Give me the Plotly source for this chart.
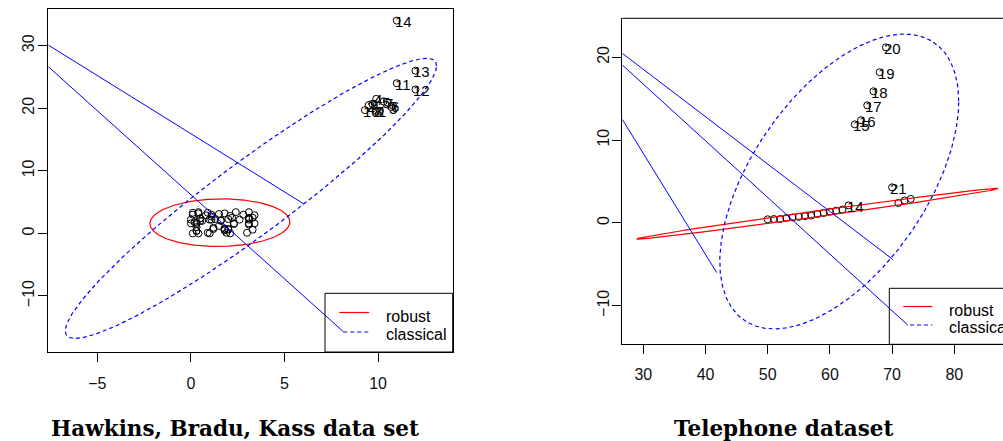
import numpy as np
import plotly.graph_objects as go

W, H = 1003, 441

# ---------------- data: Hawkins, Bradu, Kass (X1, X2) ----------------
hbk_x1 = [10.1, 9.5, 10.7, 9.9, 10.3, 10.8, 10.5, 9.9, 9.7, 9.3, 11.0, 12.0, 12.0, 11.0,
          3.4, 3.1, 0.0, 2.3, 0.8, 3.1, 2.6, 0.4, 2.0, 1.3, 1.0, 0.9, 3.3, 1.8, 1.2, 1.2,
          3.1, 0.5, 1.5, 0.4, 3.1, 1.1, 0.1, 1.5, 2.1, 0.5, 3.4, 0.3, 0.1, 1.8, 1.9, 1.8,
          3.0, 3.1, 3.1, 2.1, 2.3, 3.3, 0.3, 1.1, 0.5, 1.8, 1.8, 2.4, 1.6, 0.3, 0.4, 0.9,
          1.1, 2.8, 2.0, 0.2, 1.6, 0.1, 2.0, 1.0, 2.2, 0.6, 0.3, 0.0, 0.3]
hbk_x2 = [19.6, 20.5, 20.2, 21.5, 21.1, 20.4, 20.9, 19.6, 20.7, 19.7, 24.0, 23.0, 26.0, 34.0,
          2.9, 2.2, 1.6, 1.6, 2.9, 3.4, 2.2, 3.2, 2.3, 2.3, 0.0, 3.3, 2.5, 0.8, 0.9, 0.7,
          1.4, 2.4, 3.1, 0.0, 2.4, 2.2, 3.0, 1.2, 0.0, 2.0, 1.6, 1.0, 3.3, 0.5, 0.1, 0.5,
          0.1, 1.6, 2.5, 2.8, 1.5, 0.6, 0.4, 3.0, 2.4, 3.2, 0.7, 3.4, 2.1, 1.5, 3.4, 0.1,
          2.7, 3.0, 0.7, 1.8, 2.0, 0.0, 0.6, 2.2, 2.5, 2.0, 1.7, 2.2, 0.4]
hbk_labels = ["1", "2", "3", "4", "5", "6", "7", "8", "9", "10", "11", "12", "13", "14"]

hbk_robust_center = [1.55, 1.71]
hbk_robust_cov = [[1.896, 0.068], [0.068, 1.96]]

hbk_seg_x = [[-7.62, 6.04], [-7.62, 8.15]]
hbk_seg_y = [[30.1, 4.70], [26.64, -15.71]]

# ---------------- data: Telephone ----------------
tel_year = [50, 51, 52, 53, 54, 55, 56, 57, 58, 59, 60, 61, 62, 63, 64, 65, 66, 67, 68, 69,
            70, 71, 72, 73]
tel_calls = [0.44, 0.47, 0.47, 0.59, 0.66, 0.73, 0.81, 0.88, 1.06, 1.20, 1.35, 1.49, 1.61,
             2.12, 11.9, 12.4, 14.2, 15.9, 18.2, 21.2, 4.30, 2.40, 2.70, 2.90]
tel_label_idx = [13, 14, 15, 16, 17, 18, 19, 20]
tel_labels = ["14", "15", "16", "17", "18", "19", "20", "21"]

tel_robust_center = [58.0, 1.11]
tel_robust_cov = [[114.55, 11.98], [11.98, 1.270]]

tel_seg_x = [[26.62, 70.1], [26.62, 72.51], [26.62, 41.8]]
tel_seg_y = [[20.48, -4.40], [19.07, -12.33], [12.51, -6.01]]

hbk_xticks = [-5, 0, 5, 10]
hbk_yticks = [-10, 0, 10, 20, 30]
tel_xticks = [30, 40, 50, 60, 70, 80]
tel_yticks = [-10, 0, 10, 20]

CHI2_975 = 7.3778  # qchisq(0.975, 2)


def ellipse(center, cov, n=400):
    t = np.linspace(0, 2 * np.pi, n)
    L = np.linalg.cholesky(np.array(cov, dtype=float))
    pts = np.sqrt(CHI2_975) * (L @ np.vstack([np.cos(t), np.sin(t)]))
    return pts[0] + center[0], pts[1] + center[1]


def classical(x, y):
    x = np.asarray(x, float)
    y = np.asarray(y, float)
    return [x.mean(), y.mean()], np.cov(np.vstack([x, y]))


px = lambda v: v / W
py = lambda v: 1 - v / H

RED = "#ff0000"
BLUE = "#0000ff"
TICKFONT = dict(family="Liberation Sans, Arial", size=16, color="#111111")

fig = go.Figure()

# ---- left panel ----
fig.add_trace(go.Scatter(x=hbk_x1, y=hbk_x2, mode="markers", xaxis="x", yaxis="y",
                         marker=dict(symbol="circle-open", size=7, color="black",
                                     line=dict(width=1, color="black")), showlegend=False))
rx, ry = ellipse(hbk_robust_center, hbk_robust_cov)
fig.add_trace(go.Scatter(x=rx, y=ry, mode="lines", line=dict(color=RED, width=1.2),
                         xaxis="x", yaxis="y", showlegend=False))
c, cv = classical(hbk_x1, hbk_x2)
cx, cy = ellipse(c, cv)
fig.add_trace(go.Scatter(x=cx, y=cy, mode="lines",
                         line=dict(color=BLUE, width=1.2, dash="4px,3px"),
                         xaxis="x", yaxis="y", showlegend=False))
for sx, sy in zip(hbk_seg_x, hbk_seg_y):
    fig.add_trace(go.Scatter(x=sx, y=sy, mode="lines", line=dict(color=BLUE, width=1),
                             xaxis="x", yaxis="y", showlegend=False))

# ---- right panel ----
fig.add_trace(go.Scatter(x=tel_year, y=tel_calls, mode="markers", xaxis="x2", yaxis="y2",
                         marker=dict(symbol="circle-open", size=7, color="black",
                                     line=dict(width=1, color="black")), showlegend=False))
rx, ry = ellipse(tel_robust_center, tel_robust_cov)
fig.add_trace(go.Scatter(x=rx, y=ry, mode="lines", line=dict(color=RED, width=1.2),
                         xaxis="x2", yaxis="y2", showlegend=False))
c, cv = classical(tel_year, tel_calls)
cx, cy = ellipse(c, cv)
fig.add_trace(go.Scatter(x=cx, y=cy, mode="lines",
                         line=dict(color=BLUE, width=1.2, dash="4px,3px"),
                         xaxis="x2", yaxis="y2", showlegend=False))
for sx, sy in zip(tel_seg_x, tel_seg_y):
    fig.add_trace(go.Scatter(x=sx, y=sy, mode="lines", line=dict(color=BLUE, width=1),
                             xaxis="x2", yaxis="y2", showlegend=False))

annotations = []
LABFONT = dict(family="Liberation Sans, Arial", size=15, color="black")
for i, lab in enumerate(hbk_labels):
    annotations.append(dict(x=hbk_x1[i], y=hbk_x2[i], xref="x", yref="y", text=lab,
                            showarrow=False, xanchor="left", yanchor="middle",
                            xshift=-4, yshift=-1, font=LABFONT))
for i, lab in zip(tel_label_idx, tel_labels):
    annotations.append(dict(x=tel_year[i], y=tel_calls[i], xref="x2", yref="y2", text=lab,
                            showarrow=False, xanchor="left", yanchor="middle",
                            xshift=-4, yshift=-1, font=LABFONT))

LEGFONT = dict(family="Liberation Sans, Arial", size=16, color="black")
for (tx, ty, t) in [(383.5, 316, "robust"), (383.5, 334.5, "classical"),
                    (946.5, 310, "robust"), (946.5, 327.5, "classical")]:
    annotations.append(dict(x=px(tx), y=py(ty), xref="paper", yref="paper", text=t,
                            showarrow=False, xanchor="left", yanchor="middle", font=LEGFONT))

TITLEFONT = dict(family="DejaVu Serif", size=21.5, color="black")
annotations.append(dict(x=px(234.5), y=py(428), xref="paper", yref="paper",
                        text="<b>Hawkins, Bradu, Kass data set</b>", showarrow=False,
                        xanchor="center", yanchor="middle", font=TITLEFONT))
annotations.append(dict(x=px(783), y=py(428), xref="paper", yref="paper",
                        text="<b>Telephone dataset</b>", showarrow=False,
                        xanchor="center", yanchor="middle", font=TITLEFONT))

shapes = [
    dict(type="rect", xref="paper", yref="paper", x0=px(325), x1=px(452.7), y0=py(352),
         y1=py(293.3), line=dict(color="black", width=1)),
    dict(type="line", xref="paper", yref="paper", x0=px(339.3), x1=px(369.3),
         y0=py(312.5), y1=py(312.5), line=dict(color=RED, width=1.2)),
    dict(type="line", xref="paper", yref="paper", x0=px(343.3), x1=px(369.3),
         y0=py(332), y1=py(332), line=dict(color=BLUE, width=1.2, dash="4px,3px")),
    dict(type="rect", xref="paper", yref="paper", x0=px(889.3), x1=px(1012), y0=py(344.3),
         y1=py(288.3), line=dict(color="black", width=1)),
    dict(type="line", xref="paper", yref="paper", x0=px(903.3), x1=px(932.3),
         y0=py(306.5), y1=py(306.5), line=dict(color=RED, width=1.2)),
    dict(type="line", xref="paper", yref="paper", x0=px(910), x1=px(932.3),
         y0=py(325), y1=py(325), line=dict(color=BLUE, width=1.2, dash="4px,3px")),
    dict(type="line", xref="paper", yref="paper", x0=px(622.3), x1=px(1012),
         y0=py(18.3), y1=py(18.3), line=dict(color="black", width=1)),
]

axis_common = dict(showgrid=False, zeroline=False, showline=True, linecolor="black",
                   linewidth=1, ticks="outside", ticklen=9, tickwidth=1, tickcolor="black",
                   tickfont=TICKFONT)

fig.update_layout(
    width=W, height=H, margin=dict(l=0, r=0, t=0, b=0),
    paper_bgcolor="white", plot_bgcolor="white", showlegend=False,
    xaxis=dict(domain=[px(48.3), px(452.7)], range=[-7.62, 13.99], tickvals=hbk_xticks,
               anchor="y", mirror=True, ticklabelstandoff=8, **axis_common),
    yaxis=dict(domain=[py(352), py(9)], range=[-18.95, 35.86], tickvals=hbk_yticks,
               anchor="x", mirror=True, tickangle=-90, ticklabelstandoff=-2, **axis_common),
    xaxis2=dict(domain=[px(622.3), 1.0], range=[26.62, 87.83], tickvals=tel_xticks,
                anchor="y2", ticklabelstandoff=6, **axis_common),
    yaxis2=dict(domain=[py(344.3), py(18.3)], range=[-14.66, 24.71], tickvals=tel_yticks,
                anchor="x2", tickangle=-90, ticklabelstandoff=-3, **axis_common),
    annotations=annotations, shapes=shapes,
)

fig.write_html("out.html", config={"displayModeBar": False},
               post_script="document.body.style.margin='0';document.body.style.overflow='hidden';")
